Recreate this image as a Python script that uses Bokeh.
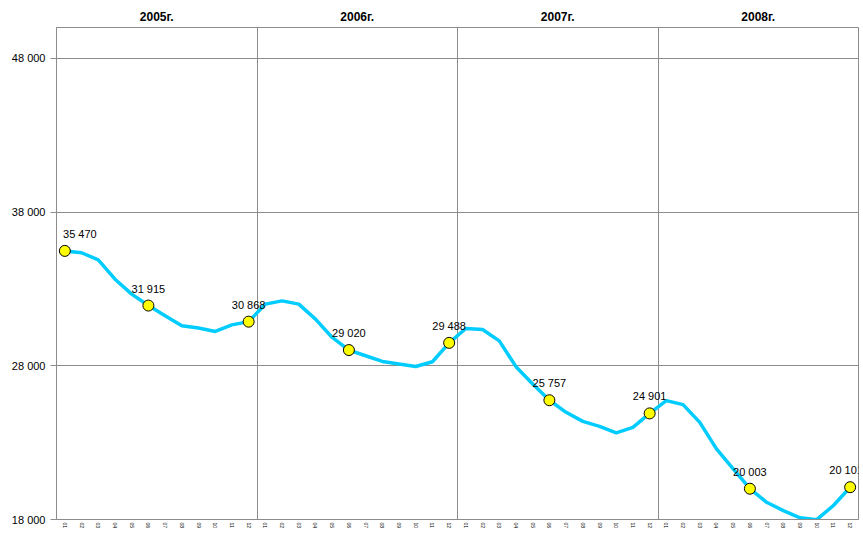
from bokeh.plotting import figure
from bokeh.models import FixedTicker, LinearAxis, ColumnDataSource, LabelSet, Range1d
from bokeh.core.properties import value
from bokeh.embed import file_html
from bokeh.resources import INLINE

# ---- data ----
years = ["2005г.", "2006г.", "2007г.", "2008г."]
month_labels = ["01", "02", "03", "04", "05", "06", "07", "08", "09", "10", "11", "12"]
values_2005 = [35470, 35350, 34880, 33630, 32660, 31915, 31250, 30600, 30450, 30230, 30660, 30868]
values_2006 = [32010, 32220, 32010, 31030, 29840, 29020, 28650, 28280, 28110, 27950, 28260, 29488]
values_2007 = [30420, 30360, 29620, 27940, 26810, 25757, 24970, 24380, 24060, 23630, 23990, 24901]
values_2008 = [25730, 25470, 24320, 22590, 21290, 20003, 19120, 18580, 18110, 17990, 18910, 20101]
marked_months = [0, 5, 11, 17, 23, 29, 35, 41, 47]
y_ticks = [18000, 28000, 38000, 48000]
y_tick_labels = ["18 000", "28 000", "38 000", "48 000"]

values = values_2005 + values_2006 + values_2007 + values_2008
x = list(range(len(values)))

FONT = "Liberation Sans"
GRID = "#8c8c8c"

p = figure(width=863, height=533, output_backend="svg", toolbar_location=None,
           x_range=Range1d(-0.5, 47.5), y_range=Range1d(18000, 50000),
           min_border_left=56, min_border_right=5, min_border_top=27, min_border_bottom=14,
           background_fill_color="white", border_fill_color="white")
p.outline_line_color = GRID
p.outline_line_width = 1

# y axis
p.yaxis.ticker = FixedTicker(ticks=y_ticks)
p.yaxis.major_label_overrides = dict(zip(y_ticks, y_tick_labels))
p.yaxis.major_label_text_font = FONT
p.yaxis.major_label_text_font_size = "11px"
p.yaxis.major_label_text_color = "black"
p.yaxis.axis_line_color = GRID
p.yaxis.major_tick_line_color = GRID
p.yaxis.major_tick_out = 6
p.yaxis.major_tick_in = 0
p.yaxis.minor_tick_line_color = None
p.yaxis.minor_tick_out = 0
p.yaxis.major_label_standoff = 5

# x axis (months)
p.xaxis.ticker = FixedTicker(ticks=x)
p.xaxis.major_label_overrides = {i: month_labels[i % 12] for i in x}
p.xaxis.major_label_orientation = "vertical"
p.xaxis.major_label_text_font = FONT
p.xaxis.major_label_text_font_size = "5px"
p.xaxis.major_label_text_color = "black"
p.xaxis.axis_line_color = GRID
p.xaxis.major_tick_line_color = None
p.xaxis.minor_tick_line_color = None
p.xaxis.major_tick_out = 0
p.xaxis.minor_tick_out = 0
p.xaxis.major_label_standoff = 3

# top axis (years)
year_centers = [5.5 + 12 * i for i in range(len(years))]
top = LinearAxis(ticker=FixedTicker(ticks=year_centers),
                 major_label_overrides=dict(zip(year_centers, years)))
top.major_label_text_font = FONT
top.major_label_text_font_size = "12px"
top.major_label_text_font_style = "bold"
top.major_label_text_color = "black"
top.axis_line_color = None
top.major_tick_line_color = None
top.minor_tick_line_color = None
top.major_tick_out = 0
top.minor_tick_out = 0
top.major_label_standoff = 4
p.add_layout(top, "above")

# grids
p.ygrid.ticker = FixedTicker(ticks=y_ticks)
p.ygrid.grid_line_color = GRID
p.xgrid.ticker = FixedTicker(ticks=[11.5, 23.5, 35.5])
p.xgrid.grid_line_color = GRID

# line
p.line(x, values, line_color="#00CCFF", line_width=3.5)

# markers and labels
mx = [x[i] for i in marked_months]
my = [values[i] for i in marked_months]
mtext = [f"{v:,}".replace(",", " ") for v in my]
xoff = [15 if i == 0 else (-4 if i == 47 else 0) for i in marked_months]
src = ColumnDataSource(dict(x=mx, y=my, text=mtext, xoff=xoff))
p.scatter("x", "y", source=src, size=11, fill_color="#FFFF00", line_color="black", line_width=1)
labels = LabelSet(x="x", y="y", text="text", source=src, x_offset="xoff", y_offset=13,
                  text_align="center", text_baseline="alphabetic",
                  text_font=value(FONT), text_font_size=value("11px"), text_color="black")
p.add_layout(labels)

open("out.html", "w").write(file_html(p, INLINE))
